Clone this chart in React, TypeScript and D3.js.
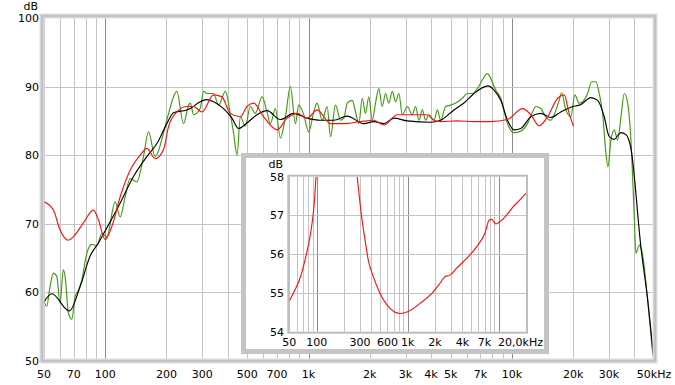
import * as d3 from "d3";

// Frequency response, [Hz, dB]
const rawResponse: [number, number][] = [
  [50, 58.6], [51.6, 58.0], [53.5, 60.8], [55.6, 62.8], [57.8, 62.3], [60, 58.4], [62.2, 63.3], [63.5, 62.3],
  [65.9, 57.0], [68.5, 56.1], [71.1, 59.4], [73.8, 60.3], [76.7, 61.8], [81.2, 65.7], [85.9, 67.0], [90.9, 66.8],
  [96.2, 68.6], [101.8, 68.1], [111.9, 73.2], [118.4, 71.0], [125.3, 73.9], [132.6, 76.6], [143.1, 76.1],
  [154.2, 79.8], [163.3, 83.4], [176, 79.8], [193.5, 83.2], [205, 86.1], [225, 89.3], [242.8, 84.6], [257, 87.3],
  [262, 87.6], [272, 85.9], [293, 86.8], [305, 89.3], [317, 89.0], [341, 89.0], [361, 87.3], [390, 89.3],
  [412, 86.1], [428, 83.2], [445, 80.0], [462, 85.6], [489, 84.2], [517, 87.1], [547, 86.1], [591, 88.5],
  [625, 86.3], [649, 84.6], [687, 86.8], [727, 82.5], [770, 85.6], [814, 90.0], [862, 84.6], [894, 87.3],
  [947, 85.9], [1002, 83.4], [1061, 86.3], [1102, 87.6], [1167, 85.1], [1235, 87.1], [1282, 82.7], [1357, 87.3],
  [1436, 85.1], [1491, 85.4], [1549, 87.6], [1640, 88.0], [1702, 86.3], [1767, 84.6], [1837, 88.3], [1906, 86.1],
  [1979, 88.5], [2057, 85.1], [2135, 87.6], [2217, 89.7], [2303, 87.1], [2392, 89.0], [2483, 87.6], [2581, 89.3],
  [2680, 87.8], [2782, 89.0], [2891, 85.9], [3060, 87.1], [3237, 85.9], [3361, 87.1], [3490, 85.1], [3627, 86.6],
  [3766, 85.1], [3910, 85.9], [4138, 85.1], [4301, 86.6], [4464, 85.1], [4725, 87.1], [5000, 87.3], [5290, 87.6],
  [5709, 88.3], [6045, 89.0], [6397, 89.0], [6768, 89.7], [7166, 91.0], [7584, 91.9], [7870, 91.2], [8172, 90.0],
  [8330, 89.5], [8816, 88.3], [9513, 84.6], [10250, 83.3], [10850, 83.4], [11930, 84.6], [12630, 86.3],
  [13110, 87.1], [13870, 86.8], [14690, 85.6], [15540, 85.1], [16140, 85.9], [17080, 88.0], [17550, 89.1],
  [18430, 86.6], [19500, 85.6], [20400, 88.8], [21430, 87.6], [22270, 87.8], [23570, 89.0], [24670, 90.7],
  [25900, 90.7], [26880, 89.0], [27940, 86.1], [29000, 80.3], [29670, 78.3], [30700, 82.2], [31870, 83.7],
  [33130, 82.2], [34400, 85.6], [35700, 89.0], [37100, 87.6], [38500, 82.2], [39990, 71.0], [40740, 65.7],
  [42300, 66.9], [43480, 66.2], [46550, 58.9], [49260, 51.1],
];

const smoothResponse: [number, number][] = [
  [50, 58.6], [54.6, 59.8], [66.6, 57.3], [75.2, 60.8], [84.3, 65.3], [92.6, 67.2], [101.8, 69.4], [118.4, 73.0],
  [137.7, 76.9], [160.3, 79.8], [179.6, 81.7], [201, 84.6], [216.8, 86.2], [252, 86.6], [262, 86.8], [293, 87.8],
  [317, 88.1], [341, 87.8], [382, 86.8], [420, 85.4], [453, 83.9], [498, 84.7], [558, 85.9], [625, 86.5],
  [727, 85.2], [845, 86.1], [984, 85.4], [1145, 85.1], [1331, 85.1], [1549, 85.7], [1870, 84.6], [2095, 84.9],
  [2347, 84.6], [2628, 85.4], [3060, 85.0], [3986, 84.8], [4464, 85.1], [5189, 86.6], [5813, 87.6], [6513, 89.0],
  [7636, 90.1], [8172, 89.5], [8816, 88.0], [9513, 85.1], [10250, 83.7], [11060, 83.9], [12390, 85.6],
  [13870, 86.1], [15540, 85.5], [17410, 86.3], [19500, 87.0], [21850, 87.4], [24470, 88.4], [26400, 88.0],
  [28460, 85.6], [30000, 82.8], [31750, 82.3], [34400, 83.3], [36400, 83.0], [38500, 81.0], [43150, 66.5],
  [46550, 58.9], [49800, 50.4],
];

const secondResponse: [number, number][] = [
  [50, 73.2], [55.6, 72.0], [60, 69.1], [65.9, 67.6], [69.7, 68.1], [78, 70.1], [87.4, 72.0], [92.6, 70.6],
  [99.9, 67.7], [107.8, 69.6], [118.4, 73.9], [132.6, 77.8], [148.6, 80.0], [160.3, 81.0], [176, 79.5],
  [193.5, 80.8], [205, 84.2], [225, 86.3], [252, 87.1], [272, 87.1], [299, 86.3], [341, 88.8], [375, 88.5],
  [412, 86.1], [462, 85.6], [498, 87.1], [537, 87.6], [601, 85.6], [700, 83.7], [784, 85.4], [879, 86.1],
  [984, 85.4], [1102, 86.6], [1282, 84.6], [1491, 84.6], [1802, 84.9], [2095, 85.1], [2347, 84.4], [2731, 85.9],
  [3060, 85.9], [3840, 85.9], [4138, 85.1], [4464, 84.9], [5394, 85.0], [6513, 84.9], [7870, 84.9], [9513, 85.2],
  [11270, 86.8], [12390, 85.9], [13610, 84.3], [14970, 85.6], [16780, 88.3], [18080, 88.8], [19120, 86.1],
  [20100, 84.2],
];

// inset curve, leaves the top of the inset between ~100 Hz and ~280 Hz
const insetLow: [number, number][] = [
  [50, 54.79], [57.8, 55.08], [65.6, 55.38], [74.4, 55.85], [84.4, 56.45], [93.4, 57.23], [98.3, 58.0],
];
const insetHigh: [number, number][] = [
  [279, 58.0], [312, 56.97], [340, 56.37], [369, 55.85], [419, 55.42], [496, 54.99], [639, 54.6], [823, 54.47],
  [1015, 54.52], [1365, 54.73], [1911, 55.03], [2265, 55.25], [2570, 55.42], [2917, 55.46], [3456, 55.64],
  [4448, 55.89], [5728, 56.19], [7072, 56.54], [7885, 56.88], [8376, 56.9], [9342, 56.78], [10340, 56.84],
  [12245, 57.01], [14470, 57.23], [17140, 57.4], [19950, 57.57],
];

const mainTickFreqs = [50, 70, 100, 200, 300, 500, 700, 1000, 2000, 3000, 4000, 5000, 7000, 10000, 20000, 30000, 50000];
const mainTickLabels = ["50", "70", "100", "200", "300", "500", "700", "1k", "2k", "3k", "4k", "5k", "7k", "10k", "20k", "30k", "50kHz"];
const mainDbTicks = [50, 60, 70, 80, 90, 100];

const insetTickFreqs = [50, 100, 300, 600, 1000, 2000, 4000, 7000];
const insetTickLabels = ["50", "100", "300", "600", "1k", "2k", "4k", "7k"];
const insetEndLabel = "20,0kHz";
const insetDbTicks = [54, 55, 56, 57, 58];

const FONT = "DejaVu Sans";
const GRID = "#c4c4c4";
const GRID_DARK = "#8a8a8a";

function gridFreqs(lo: number, hi: number) {
  const out: number[] = [];
  for (let dec = 10; dec <= hi; dec *= 10) {
    for (let m = 1; m < 10; m++) {
      const f = dec * m;
      if (f >= lo && f <= hi) out.push(f);
    }
  }
  return out;
}
const isDecade = (f: number) => Math.abs(Math.log10(f) - Math.round(Math.log10(f))) < 1e-9;
const px = (v: number) => Math.round(v) + 0.5;

export default function App() {
  const L = 44, R = 654, T = 18, B = 361;
  const x = d3.scaleLog().domain([50, 50000]).range([L, R]);
  const y = d3.scaleLinear().domain([50, 100]).range([B, T]);

  const iL = 289.3, iR = 526, iT = 176.7, iB = 331.7;
  const xi = d3.scaleLog().domain([50, 20000]).range([iL, iR]);
  const yi = d3.scaleLinear().domain([54, 58]).range([iB, iT]);

  const line = d3.line<[number, number]>().x((d) => x(d[0])).y((d) => y(d[1])).curve(d3.curveMonotoneX);
  const lineI = d3.line<[number, number]>().x((d) => xi(d[0])).y((d) => yi(d[1])).curve(d3.curveMonotoneX);

  const mainGrid = gridFreqs(50, 50000);
  const insetGrid = gridFreqs(50, 20000);

  return (
    <svg width={675} height={385} style={{ position: "absolute", left: 0, top: 0, background: "#fff" }}
      fontFamily={FONT} fontSize={11}>
      <defs>
        <clipPath id="mainClip"><rect x={L} y={T} width={R - L} height={B - T} /></clipPath>
        <clipPath id="insetClip"><rect x={iL} y={iT} width={iR - iL} height={iB - iT} /></clipPath>
      </defs>

      {/* main grid */}
      {mainGrid.map((f) => (
        <line key={"v" + f} x1={px(x(f))} x2={px(x(f))} y1={T} y2={B}
          stroke={isDecade(f) ? GRID_DARK : GRID} strokeWidth={1} />
      ))}
      {mainDbTicks.slice(1, -1).map((v) => (
        <line key={"h" + v} x1={L} x2={R} y1={px(y(v))} y2={px(y(v))} stroke={GRID} strokeWidth={1} />
      ))}

      <g clipPath="url(#mainClip)" fill="none" strokeWidth={1.15}>
        <path d={line(rawResponse) ?? ""} stroke="#3f9b12" />
        <path d={line(smoothResponse) ?? ""} stroke="#000" />
        <path d={line(secondResponse) ?? ""} stroke="#ff1010" />
      </g>

      {/* main frame */}
      <rect x={42} y={16} width={613} height={345} fill="none" stroke="#dedede" strokeWidth={5} />
      <rect x={42} y={16} width={613} height={345} fill="none" stroke="#c2c2c2" strokeWidth={2.5} />

      {/* main axes labels */}
      {mainDbTicks.map((v) => (
        <text key={"yl" + v} x={39} y={y(v)} dy="0.36em" textAnchor="end" fill="#000">{v}</text>
      ))}
      <text x={38} y={10} textAnchor="end">dB</text>
      {mainTickFreqs.map((f, i) => (
        <text key={"xl" + f} x={x(f)} y={378} textAnchor="middle">{mainTickLabels[i]}</text>
      ))}

      {/* inset */}
      <rect x={243.5} y={155.5} width={303} height={196} fill="#fff" stroke="#c4c4c4" strokeWidth={5} />
      {insetGrid.map((f) => (
        <line key={"iv" + f} x1={px(xi(f))} x2={px(xi(f))} y1={iT} y2={iB}
          stroke={isDecade(f) ? GRID_DARK : GRID} strokeWidth={1} />
      ))}
      {insetDbTicks.slice(1, -1).map((v) => (
        <line key={"ih" + v} x1={iL} x2={iR} y1={px(yi(v))} y2={px(yi(v))} stroke={GRID} strokeWidth={1} />
      ))}
      <g clipPath="url(#insetClip)" fill="none" strokeWidth={1.15} stroke="#ff1010">
        <path d={lineI(insetLow) ?? ""} />
        <path d={lineI(insetHigh) ?? ""} />
      </g>
      <rect x={iL - 1} y={iT - 1} width={iR - iL + 2} height={iB - iT + 2} fill="none" stroke="#bdbdbd" strokeWidth={2} />
      {insetDbTicks.map((v) => (
        <text key={"iyl" + v} x={284} y={yi(v)} dy="0.36em" textAnchor="end">{v}</text>
      ))}
      <text x={283} y={168} textAnchor="end">dB</text>
      {insetTickFreqs.map((f, i) => (
        <text key={"ixl" + f} x={xi(f)} y={346} textAnchor="middle">{insetTickLabels[i]}</text>
      ))}
      <text x={543} y={346} textAnchor="end">{insetEndLabel}</text>
    </svg>
  );
}
